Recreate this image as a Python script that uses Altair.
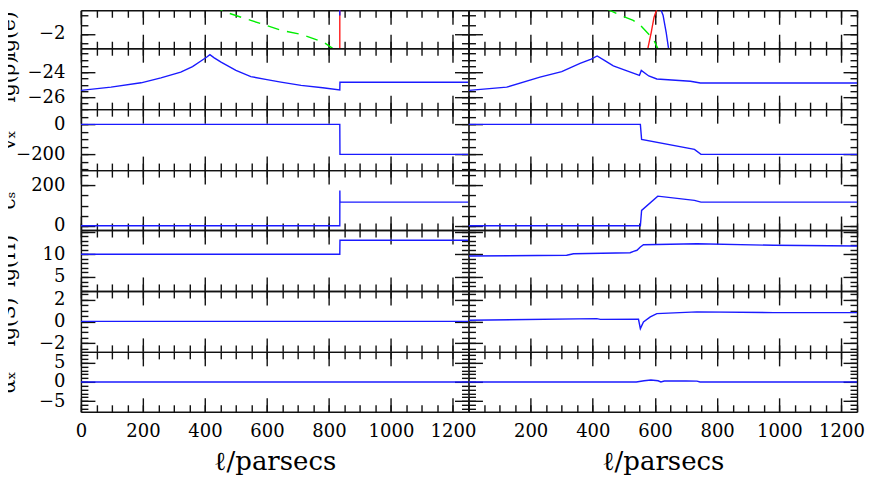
import altair as alt
import numpy as np
import pandas as pd

FONT = "DejaVu Serif"

# ---------------- data ----------------
# x-axis (parsecs) ticks
X_MAJOR = [0, 200, 400, 600, 800, 1000, 1200]
X_MINOR = list(range(0, 1251, 50))

# Row 1 : lg(e)  -- left column
R1_L_GREEN_X = [370, 402, 468, 548, 645, 709, 783, 806, 830]
R1_L_GREEN_Y = [0.2, -0.28, -0.82, -1.26, -1.8, -2.02, -2.45, -2.72, -3.0]
R1_L_RED_X = [835, 835]
R1_L_RED_Y = [-3.5, 1.0]
R1_L_BLUE_X = [835, 835]
R1_L_BLUE_Y = [-0.55, -1.0]
# Row 1 -- right column
R1_R_GREEN_X = [395, 414, 488, 530, 553, 595, 607, 615]
R1_R_GREEN_Y = [0.1, -0.39, -0.98, -1.26, -1.53, -2.29, -2.72, -3.0]
R1_R_RED_X = [576, 578, 588, 597, 614, 621]
R1_R_RED_Y = [-3.0, -2.72, -1.91, -1.09, -0.28, 0.2]
R1_R_BLUE_X = [598, 610, 626, 636, 643, 646]
R1_R_BLUE_Y = [0.3, -0.28, -0.98, -1.91, -2.72, -3.0]

# Row 2 : lg(rho)
R2_L_X = [0, 97, 194, 258, 322, 360, 387, 405, 416, 430, 452, 500, 548, 600, 645, 710, 780, 835, 835.5, 1250]
R2_L_Y = [-25.46, -25.2, -24.85, -24.45, -24.0, -23.55, -23.1, -22.8, -22.6, -22.85, -23.2, -23.85,
          -24.35, -24.6, -24.8, -25.06, -25.25, -25.42, -24.8, -24.8]
R2_R_X = [2, 123, 230, 300, 359, 395, 414, 440, 466, 510, 550, 556, 580, 606, 714, 746, 1250]
R2_R_Y = [-25.46, -25.2, -24.4, -23.95, -23.3, -22.95, -22.7, -23.1, -23.5, -23.9, -24.26, -23.86,
          -24.3, -24.54, -24.72, -24.86, -24.86]

# Row 3 : v_x
R3_L_X = [0, 835, 835.5, 1250]
R3_L_Y = [0, 0, -200, -200]
R3_R_X = [0, 553, 557, 727, 748, 1250]
R3_R_Y = [0, 0, -100, -167, -200, -200]

# Row 4 : c_s
R4_L_X = [0, 835, 835.2, 835.5, 1250]
R4_L_Y = [0, 0, 175, 117, 117]
R4_R_X = [0, 553, 557, 609, 727, 748, 1250]
R4_R_Y = [0, 0, 76, 147, 126, 117, 117]

# Row 5 : lg(H)
R5_L_X = [0, 835, 835.5, 1250]
R5_L_Y = [10.0, 10.0, 13.1, 13.1]
R5_R_X = [2, 316, 338, 520, 531, 542, 553, 563, 735, 982, 1251]
R5_R_Y = [9.63, 9.78, 10.13, 10.35, 10.66, 10.88, 11.6, 12.11, 12.33, 11.98, 11.83]

# Row 6 : lg(S)
R6_L_X = [0, 1250]
R6_L_Y = [0, 0]
R6_R_X = [2, 413, 424, 547, 553, 563, 585, 606, 735, 982, 1251]
R6_R_Y = [0.11, 0.26, 0.19, 0.2, -0.67, -0.05, 0.42, 0.72, 0.88, 0.81, 0.81]

# Row 7 : alpha_x
R7_L_X = [0, 1250]
R7_L_Y = [0, 0]
R7_R_X = [0, 540, 565, 587, 610, 619, 630, 700, 735, 745, 1250]
R7_R_Y = [0, 0, 0.3, 0.5, 0.3, 0, 0.25, 0.25, 0.2, 0, 0]

# per-row y axes: domain, major step, minor step, labelled values, title
ROW_DOMAINS = [[-2.78, -0.71], [-26.96, -22.08], [-305, 102], [-21, 276],
               [1.92, 15.35], [-2.82, 2.82], [-7.8, 7.85]]
ROW_MAJOR = [2, 2, 200, 200, 5, 2, 5]
ROW_MINOR = [0.5, 0.5, 50, 50, 1, 0.5, 1]
ROW_LABELS = [[-2], [-24, -26], [0, -200], [0, 200], [5, 10], [-2, 0, 2], [-5, 0, 5]]
ROW_TITLES = ["lg(e)", "lg(ρ)", "vₓ", "cₛ", "lg(H)", "lg(S)", "αₓ"]
ROW_HEIGHTS = [38, 61, 61, 60, 61, 61, 60]

BLUE, RED, GREEN = "#1a1aff", "#ff1a1a", "#00ee00"

ROW_SERIES = [
    ([(R1_L_GREEN_X, R1_L_GREEN_Y, GREEN, True), (R1_L_RED_X, R1_L_RED_Y, RED, False),
      (R1_L_BLUE_X, R1_L_BLUE_Y, BLUE, False)],
     [(R1_R_GREEN_X, R1_R_GREEN_Y, GREEN, True), (R1_R_RED_X, R1_R_RED_Y, RED, False),
      (R1_R_BLUE_X, R1_R_BLUE_Y, BLUE, False)]),
    ([(R2_L_X, R2_L_Y, BLUE, False)], [(R2_R_X, R2_R_Y, BLUE, False)]),
    ([(R3_L_X, R3_L_Y, BLUE, False)], [(R3_R_X, R3_R_Y, BLUE, False)]),
    ([(R4_L_X, R4_L_Y, BLUE, False)], [(R4_R_X, R4_R_Y, BLUE, False)]),
    ([(R5_L_X, R5_L_Y, BLUE, False)], [(R5_R_X, R5_R_Y, BLUE, False)]),
    ([(R6_L_X, R6_L_Y, BLUE, False)], [(R6_R_X, R6_R_Y, BLUE, False)]),
    ([(R7_L_X, R7_L_Y, BLUE, False)], [(R7_R_X, R7_R_Y, BLUE, False)]),
]

WIDTHS = [388, 389]


def tick_values(lo, hi, step):
    start = np.ceil(lo / step - 1e-9) * step
    vals = np.arange(start, hi + 1e-9, step)
    return [float(round(v, 6)) for v in vals]


TICK = dict(grid=False, labels=False, title=None, tickColor="#111111", tickWidth=1.4,
            domainColor="#111111", domainWidth=1.4)


def make_panel(row, col):
    w, h = WIDTHS[col], ROW_HEIGHTS[row]
    ydom = ROW_DOMAINS[row]
    xs = alt.Scale(domain=[0, 1250], nice=False, zero=False)
    ys = alt.Scale(domain=ydom, nice=False, zero=False)
    ymaj = tick_values(ydom[0], ydom[1], ROW_MAJOR[row])
    ymin = tick_values(ydom[0], ydom[1], ROW_MINOR[row])
    series = ROW_SERIES[row][col]

    dfs = []
    layers = []
    for sx, sy, color, dashed in series:
        df = pd.DataFrame({"x": sx, "y": sy, "i": range(len(sx))})
        dfs.append(df)
        kw = dict(color=color, strokeWidth=1.4, clip=True)
        if dashed:
            kw["strokeDash"] = [12, 8]
        layers.append(
            alt.Chart(df).mark_line(**kw).encode(
                x=alt.X("x:Q", scale=xs, axis=None),
                y=alt.Y("y:Q", scale=ys, axis=None),
                order="i:Q",
            )
        )
    base = pd.concat(dfs)

    def axis_layer(xaxis, yaxis):
        return alt.Chart(base).mark_line(opacity=0, clip=True).encode(
            x=alt.X("x:Q", scale=xs, axis=xaxis),
            y=alt.Y("y:Q", scale=ys, axis=yaxis),
            order="i:Q",
        )

    for xv, yv, size, dom in [(X_MAJOR, ymaj, 14, True), (X_MINOR, ymin, 7, False)]:
        # ticks on bottom edge pointing up / left edge pointing right
        layers.append(axis_layer(
            alt.Axis(orient="top", offset=-h, values=xv, tickSize=size, domain=dom, **TICK),
            alt.Axis(orient="right", offset=-w, values=yv, tickSize=size, domain=dom, **TICK)))
        # ticks on top edge pointing down / right edge pointing left
        layers.append(axis_layer(
            alt.Axis(orient="bottom", offset=-h, values=xv, tickSize=size, domain=dom, **TICK),
            alt.Axis(orient="left", offset=-w, values=yv, tickSize=size, domain=dom, **TICK)))

    bottom = row == len(ROW_HEIGHTS) - 1
    left = col == 0
    if bottom or left:
        xa = None
        ya = None
        if bottom:
            xa = alt.Axis(orient="bottom", values=X_MAJOR if left else X_MAJOR[1:],
                          format="d", ticks=False, domain=False, grid=False, labelPadding=11,
                          labelFont=FONT, labelFontSize=18, labelColor="black",
                          labelFlush=False, labelOverlap=False,
                          title="ℓ/parsecs", titleFont=FONT, titleFontSize=26,
                          titleFontWeight="normal", titleColor="black", titlePadding=8)
        if left:
            ty = 24 if row == 0 else h / 2
            ya = alt.Axis(orient="left", values=ROW_LABELS[row], format="d", ticks=False,
                          domain=False, grid=False, labelPadding=16, labelFont=FONT,
                          labelFontSize=18, labelColor="black", labelOverlap=False,
                          labelFlush=False,
                          title=ROW_TITLES[row], titleFont=FONT, titleFontSize=20,
                          titleFontWeight="normal", titleColor="black",
                          titleX=-66, titleY=ty, titleAlign="center",
                          titleBaseline="alphabetic")
        layers.append(axis_layer(xa, ya))

    return alt.layer(*layers).resolve_axis(x="independent", y="independent").properties(
        width=w, height=h)


panels = []
for r in range(len(ROW_HEIGHTS)):
    for c in range(2):
        panels.append(make_panel(r, c))

chart = alt.concat(*panels, columns=2, spacing=0, bounds="flush").properties(
    padding={"left": -10, "top": 0, "right": 5, "bottom": 0}
).configure_view(stroke=None).configure(background="white")

chart.save("out.html", embed_options={"renderer": "svg", "actions": False})
